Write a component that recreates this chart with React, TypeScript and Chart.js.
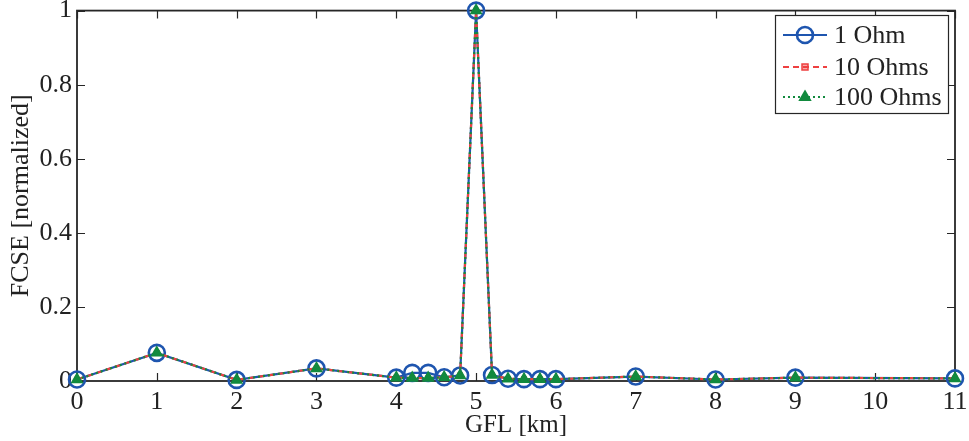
import React, { useEffect, useRef } from "react";
import { Chart, registerables } from "chart.js";

Chart.register(...registerables);

const gflKm = [0, 1, 2, 3, 4, 4.2, 4.4, 4.6, 4.8, 5, 5.2, 5.4, 5.6, 5.8, 6, 7, 8, 9, 11];
const fcse1Ohm = [0.004, 0.076, 0.003, 0.034, 0.009, 0.022, 0.022, 0.01, 0.015, 1, 0.016, 0.006, 0.005, 0.005, 0.005, 0.012, 0.004, 0.009, 0.007];
const fcse10Ohms = [0.004, 0.076, 0.003, 0.034, 0.009, 0.008, 0.008, 0.01, 0.015, 1, 0.016, 0.006, 0.005, 0.005, 0.005, 0.012, 0.004, 0.009, 0.007];
const fcse100Ohms = [0.004, 0.076, 0.003, 0.034, 0.009, 0.008, 0.008, 0.01, 0.015, 1, 0.016, 0.006, 0.005, 0.005, 0.005, 0.012, 0.004, 0.009, 0.007];
const seriesNames = ["1 Ohm", "10 Ohms", "100 Ohms"];
const xTicks = [0, 1, 2, 3, 4, 5, 6, 7, 8, 9, 10, 11];
const yTicks = [0, 0.2, 0.4, 0.6, 0.8, 1];
const xTitle = "GFL [km]";
const yTitle = "FCSE [normalized]";

const FONT = "'Liberation Serif', 'Times New Roman', serif";
const BLUE = "rgb(30, 85, 175)";
const RED = "rgb(238, 64, 64)";
const GREEN = "rgb(18, 138, 62)";
const AXIS = "#262626";

const boxTicksPlugin = {
  id: "boxTicks",
  beforeDatasetsDraw(chart: any) {
    const { ctx, chartArea } = chart;
    const { left, right, top, bottom } = chartArea;
    const xs = chart.scales.x;
    const ys = chart.scales.y;
    const len = 8;
    ctx.save();
    ctx.strokeStyle = AXIS;
    ctx.lineWidth = 1.2;
    ctx.beginPath();
    xTicks.forEach((v) => {
      const px = Math.round(xs.getPixelForValue(v)) + 0.5;
      ctx.moveTo(px, bottom);
      ctx.lineTo(px, bottom - len);
      ctx.moveTo(px, top);
      ctx.lineTo(px, top + len);
    });
    yTicks.forEach((v) => {
      const py = Math.round(ys.getPixelForValue(v)) + 0.5;
      ctx.moveTo(left, py);
      ctx.lineTo(left + len, py);
      ctx.moveTo(right, py);
      ctx.lineTo(right - len, py);
    });
    ctx.stroke();
    ctx.lineWidth = 1.8;
    ctx.strokeRect(left, top, right - left, bottom - top);
    ctx.restore();
  },
};

const legendPlugin = {
  id: "customLegend",
  afterDraw(chart: any) {
    const { ctx } = chart;
    const bx = 775, by = 15, bw = 173, bh = 98;
    ctx.save();
    ctx.fillStyle = "#fff";
    ctx.fillRect(bx, by, bw, bh);
    ctx.strokeStyle = AXIS;
    ctx.lineWidth = 1.2;
    ctx.strokeRect(bx + 0.5, by + 0.5, bw, bh);
    const rows = [35, 67, 97];
    chart.data.datasets.forEach((ds: any, i: number) => {
      const y = rows[i];
      ctx.save();
      ctx.strokeStyle = ds.borderColor;
      ctx.lineWidth = ds.borderWidth;
      ctx.setLineDash(ds.borderDash || []);
      ctx.beginPath();
      ctx.moveTo(783, y);
      ctx.lineTo(827, y);
      ctx.stroke();
      ctx.setLineDash([]);
      ctx.lineWidth = ds.pointBorderWidth;
      ctx.strokeStyle = ds.pointBorderColor;
      ctx.fillStyle = ds.pointBackgroundColor;
      const cx = 805;
      const r = ds.pointRadius;
      ctx.beginPath();
      if (ds.pointStyle === "circle") {
        ctx.arc(cx, y, r, 0, Math.PI * 2);
        ctx.stroke();
      } else if (ds.pointStyle === "rect") {
        ctx.rect(cx - r, y - r, 2 * r, 2 * r);
        ctx.fill();
        ctx.stroke();
      } else {
        ctx.moveTo(cx, y - r);
        ctx.lineTo(cx + r * 0.9, y + r * 0.55);
        ctx.lineTo(cx - r * 0.9, y + r * 0.55);
        ctx.closePath();
        ctx.fill();
        ctx.stroke();
      }
      ctx.restore();
      ctx.fillStyle = "#222";
      ctx.font = `26px ${FONT}`;
      ctx.textBaseline = "middle";
      ctx.textAlign = "left";
      ctx.fillText(seriesNames[i], 834, y + 1);
    });
    ctx.restore();
  },
};

export default function App() {
  const canvasRef = useRef<HTMLCanvasElement | null>(null);

  useEffect(() => {
    const canvas = canvasRef.current;
    if (!canvas) return;
    const mk = (arr: number[]) => gflKm.map((x, i) => ({ x, y: arr[i] }));
    const chart = new Chart(canvas, {
      type: "line",
      data: {
        datasets: [
          {
            label: seriesNames[0],
            data: mk(fcse1Ohm),
            borderColor: BLUE,
            borderWidth: 2.2,
            pointStyle: "circle",
            pointRadius: 8,
            pointBorderWidth: 2.6,
            pointBorderColor: BLUE,
            pointBackgroundColor: "rgba(0,0,0,0)",
            order: 3,
            clip: false,
          } as any,
          {
            label: seriesNames[1],
            data: mk(fcse10Ohms),
            borderColor: RED,
            borderWidth: 2.2,
            borderDash: [6, 4],
            pointStyle: "rect",
            pointRadius: 3,
            pointBorderWidth: 1.5,
            pointBorderColor: RED,
            pointBackgroundColor: "rgba(238,64,64,0.45)",
            order: 2,
            clip: false,
          } as any,
          {
            label: seriesNames[2],
            data: mk(fcse100Ohms),
            borderColor: GREEN,
            borderWidth: 2.2,
            borderDash: [2, 3],
            pointStyle: "triangle",
            pointRadius: 6,
            pointBorderWidth: 1.5,
            pointBorderColor: GREEN,
            pointBackgroundColor: GREEN,
            order: 1,
            clip: false,
          } as any,
        ],
      },
      options: {
        responsive: false,
        animation: false,
        layout: { padding: { top: 8, right: 14, left: 0, bottom: 0 } },
        plugins: {
          legend: { display: false },
          tooltip: { enabled: false },
        },
        scales: {
          x: {
            type: "linear",
            min: 0,
            max: 11,
            grid: { display: false, drawTicks: false },
            border: { display: false },
            afterBuildTicks: (scale: any) => {
              scale.ticks = xTicks.map((v) => ({ value: v }));
            },
            afterFit: (scale: any) => {
              scale.height = 60;
              scale.paddingLeft = 0;
              scale.paddingRight = 0;
            },
            ticks: {
              color: "#222",
              font: { family: FONT, size: 26 },
              padding: 6,
              maxRotation: 0,
              autoSkip: false,
              callback: (v: any) => String(v),
            },
            title: {
              display: true,
              text: xTitle,
              color: "#222",
              font: { family: FONT, size: 25 },
              padding: { top: 0, bottom: 1 },
            },
          },
          y: {
            type: "linear",
            min: 0,
            max: 1,
            grid: { display: false, drawTicks: false },
            border: { display: false },
            afterBuildTicks: (scale: any) => {
              scale.ticks = yTicks.map((v) => ({ value: v }));
            },
            afterFit: (scale: any) => {
              scale.width = 77;
              scale.paddingTop = 0;
              scale.paddingBottom = 0;
            },
            ticks: {
              color: "#222",
              font: { family: FONT, size: 26 },
              padding: 5,
              autoSkip: false,
              callback: (v: any) => {
                const n = Number(v);
                if (n === 0) return "0";
                if (n === 1) return "1";
                return n.toFixed(1);
              },
            },
            title: {
              display: true,
              text: yTitle,
              color: "#222",
              font: { family: FONT, size: 26 },
              padding: { top: 6, bottom: 0 },
            },
          },
        },
      },
      plugins: [boxTicksPlugin, legendPlugin],
    });
    return () => chart.destroy();
  }, []);

  return (
    <div style={{ position: "absolute", left: 0, top: 0, width: 969, height: 441, background: "#fff" }}>
      <canvas ref={canvasRef} width={969} height={441} style={{ display: "block" }} />
    </div>
  );
}
